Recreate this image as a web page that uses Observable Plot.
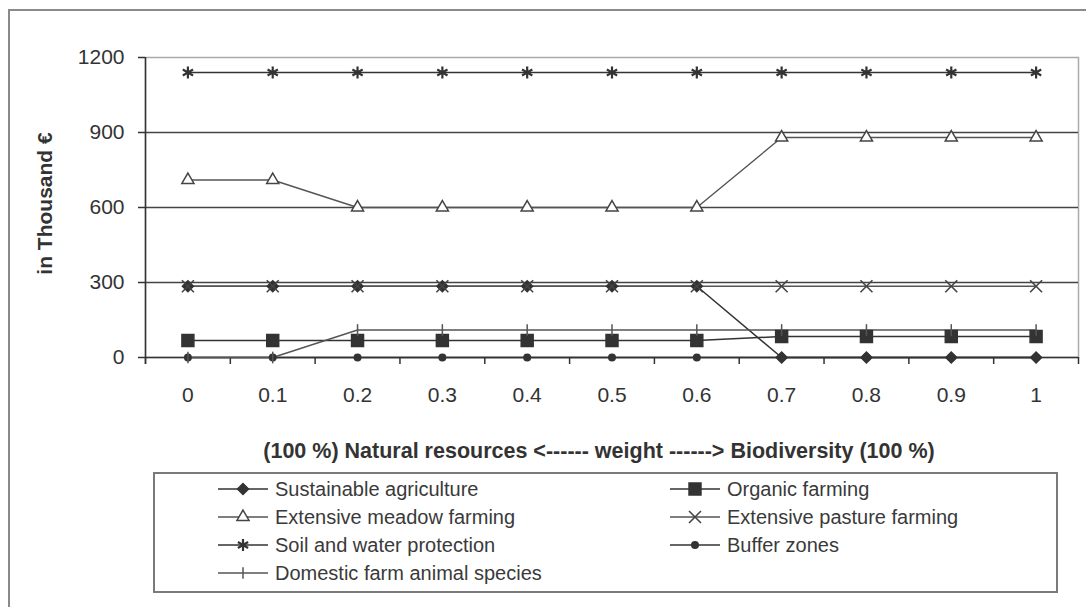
<!DOCTYPE html>
<html><head><meta charset="utf-8">
<script src="https://cdn.jsdelivr.net/npm/d3@7"></script>
<script src="https://cdn.jsdelivr.net/npm/@observablehq/plot@0.6"></script>
<style>
html,body{margin:0;padding:0;background:#fff;overflow:hidden;width:1086px;height:607px;}
#wrap{position:relative;width:1086px;height:607px;font-family:"Liberation Sans",Arial,sans-serif;color:#333;}
#outer{position:absolute;left:8px;top:9px;width:1200px;height:700px;border:2px solid #8a8a8a;box-sizing:border-box;}
#chart{position:absolute;left:0;top:0;}
#legend{position:absolute;left:153px;top:472px;width:905px;height:121px;border:2px solid #7a7a7a;box-sizing:border-box;}
.item{position:absolute;display:flex;align-items:center;font-size:20px;height:28px;white-space:nowrap;color:#3a3a3a;}
.item svg{margin-right:7px;}
</style></head><body>
<div id="wrap"><div id="outer"></div><div id="chart"></div><div id="legend"></div></div>
<script>
// ---- data ----
const weights = [0, 0.1, 0.2, 0.3, 0.4, 0.5, 0.6, 0.7, 0.8, 0.9, 1];
const weightLabels = ["0", "0.1", "0.2", "0.3", "0.4", "0.5", "0.6", "0.7", "0.8", "0.9", "1"];
const yTicks = [0, 300, 600, 900, 1200];
const seriesNames = [
  "Sustainable agriculture",
  "Organic farming",
  "Extensive meadow  farming",
  "Extensive pasture farming",
  "Soil and water protection",
  "Buffer zones",
  "Domestic farm animal species"
];
const sustainable = [285, 285, 285, 285, 285, 285, 285, 0, 0, 0, 0];
const organic     = [68, 68, 68, 68, 68, 68, 68, 84, 84, 84, 84];
const meadow      = [710, 710, 600, 600, 600, 600, 600, 880, 880, 880, 880];
const pasture     = [285, 285, 285, 285, 285, 285, 285, 285, 285, 285, 285];
const soil        = [1140, 1140, 1140, 1140, 1140, 1140, 1140, 1140, 1140, 1140, 1140];
const buffer      = [0, 0, 0, 0, 0, 0, 0, 0, 0, 0, 0];
const domestic    = [0, 0, 110, 110, 110, 110, 110, 110, 110, 110, 110];
const xTitle = "(100 %) Natural resources <------ weight ------> Biodiversity (100 %)";
const yTitle = "in Thousand \u20AC";

// ---- styles ----
const vtick = {draw(context, size) { const h = Math.sqrt(size) * 0.6; context.moveTo(0, -h); context.lineTo(0, h); }};
const styles = [
  {symbol: "diamond2", d3s: d3.symbolDiamond2, r: 5.0, fill: "#333", stroke: "#333", line: "#333", sw: 1.5, msw: 1.4},
  {symbol: "square", d3s: d3.symbolSquare, r: 6.8, fill: "#333", stroke: "#333", line: "#333", sw: 1.5, msw: 1.4},
  {symbol: "triangle", d3s: d3.symbolTriangle, r: 4.5, fill: "white", stroke: "#444", line: "#555", sw: 1.4, msw: 1.5},
  {symbol: "times", d3s: d3.symbolTimes, r: 5.5, fill: "none", stroke: "#444", line: "#555", sw: 1.4, msw: 1.6},
  {symbol: "asterisk", d3s: d3.symbolAsterisk, r: 5.6, fill: "none", stroke: "#333", line: "#333", sw: 1.5, msw: 2.2},
  {symbol: "circle", d3s: d3.symbolCircle, r: 4.0, fill: "#333", stroke: "none", line: "#333", sw: 1.5, msw: 1.4},
  {symbol: vtick, d3s: vtick, r: 5.5, fill: "none", stroke: "#555", line: "#555", sw: 1.4, msw: 1.5}
];
const values = [sustainable, organic, meadow, pasture, soil, buffer, domestic];
const rows = seriesNames.flatMap((name, k) => weights.map((w, i) => ({series: name, k, weight: w, value: values[k][i]})));

const step = weights[1] - weights[0];
const xDomain = [weights[0] - step / 2, weights[weights.length - 1] + step / 2];
const boundaries = weights.map(w => w - step / 2).concat([xDomain[1]]);

const lineMarks = seriesNames.map((name, k) => Plot.line(rows.filter(d => d.k === k), {
  x: "weight", y: "value", stroke: styles[k].line, strokeWidth: styles[k].sw
}));
const dotMarks = seriesNames.map((name, k) => Plot.dot(rows.filter(d => d.k === k), {
  x: "weight", y: "value", symbol: styles[k].symbol, r: styles[k].r,
  fill: styles[k].fill, stroke: styles[k].stroke, strokeWidth: styles[k].msw
}));

const chart = Plot.plot({
  width: 1086,
  height: 470,
  marginTop: 57,
  marginBottom: 113,
  marginLeft: 145,
  marginRight: 8,
  style: {fontFamily: "'Liberation Sans', Arial, sans-serif", color: "#333", background: "transparent"},
  x: {type: "linear", domain: xDomain},
  y: {domain: [yTicks[0], yTicks[yTicks.length - 1]]},
  marks: [
    Plot.frame({stroke: "#aaa", strokeWidth: 1.5}),
    Plot.ruleY(yTicks.slice(1, -1), {stroke: "#444", strokeWidth: 1.5}),
    Plot.ruleY([0], {stroke: "#333", strokeWidth: 1.5}),
    Plot.ruleX([xDomain[0]], {stroke: "#333", strokeWidth: 1.5, insetBottom: -7}),
    Plot.axisY({ticks: yTicks, tickSize: 7, tickPadding: 14, fontSize: 21, label: null, stroke: "#333", strokeWidth: 1.5,
      tickFormat: d => String(d)}),
    Plot.axisX({ticks: boundaries, tickSize: 7, tickFormat: () => "", label: null, stroke: "#333", strokeWidth: 1.5}),
    Plot.axisX({ticks: weights, tickSize: 0, tickPadding: 30, fontSize: 21, label: null,
      tickFormat: d => weightLabels[weights.findIndex(w => Math.abs(w - d) < 1e-9)]}),
    ...lineMarks,
    ...dotMarks,
    Plot.text([xTitle], {frameAnchor: "bottom", dy: 94, dx: -13, lineAnchor: "middle", textAnchor: "middle", fontWeight: "bold", fontSize: 21.5, fill: "#333"}),
    Plot.text([yTitle], {frameAnchor: "left", dx: -100, dy: -4, rotate: -90, lineAnchor: "middle", textAnchor: "middle", fontWeight: "bold", fontSize: 21, fill: "#333"})
  ]
});
document.getElementById("chart").appendChild(chart);

// ---- legend ----
const legend = d3.select("#legend");
seriesNames.forEach((name, k) => {
  const col = k % 2, row = Math.floor(k / 2);
  const st = styles[k];
  const item = legend.append("div").attr("class", "item")
    .style("left", (col === 0 ? 63 : 515) + "px")
    .style("top", (1 + row * 28) + "px");
  const svg = item.append("svg").attr("width", 50).attr("height", 20);
  svg.append("line").attr("x1", 0).attr("x2", 50).attr("y1", 10).attr("y2", 10)
    .attr("stroke", st.line).attr("stroke-width", st.sw);
  svg.append("path").attr("transform", "translate(25,10)")
    .attr("d", d3.symbol(st.d3s, Math.PI * st.r * st.r)())
    .attr("fill", st.fill).attr("stroke", st.stroke).attr("stroke-width", st.msw);
  item.append("span").text(name);
});
</script>
</body></html>
